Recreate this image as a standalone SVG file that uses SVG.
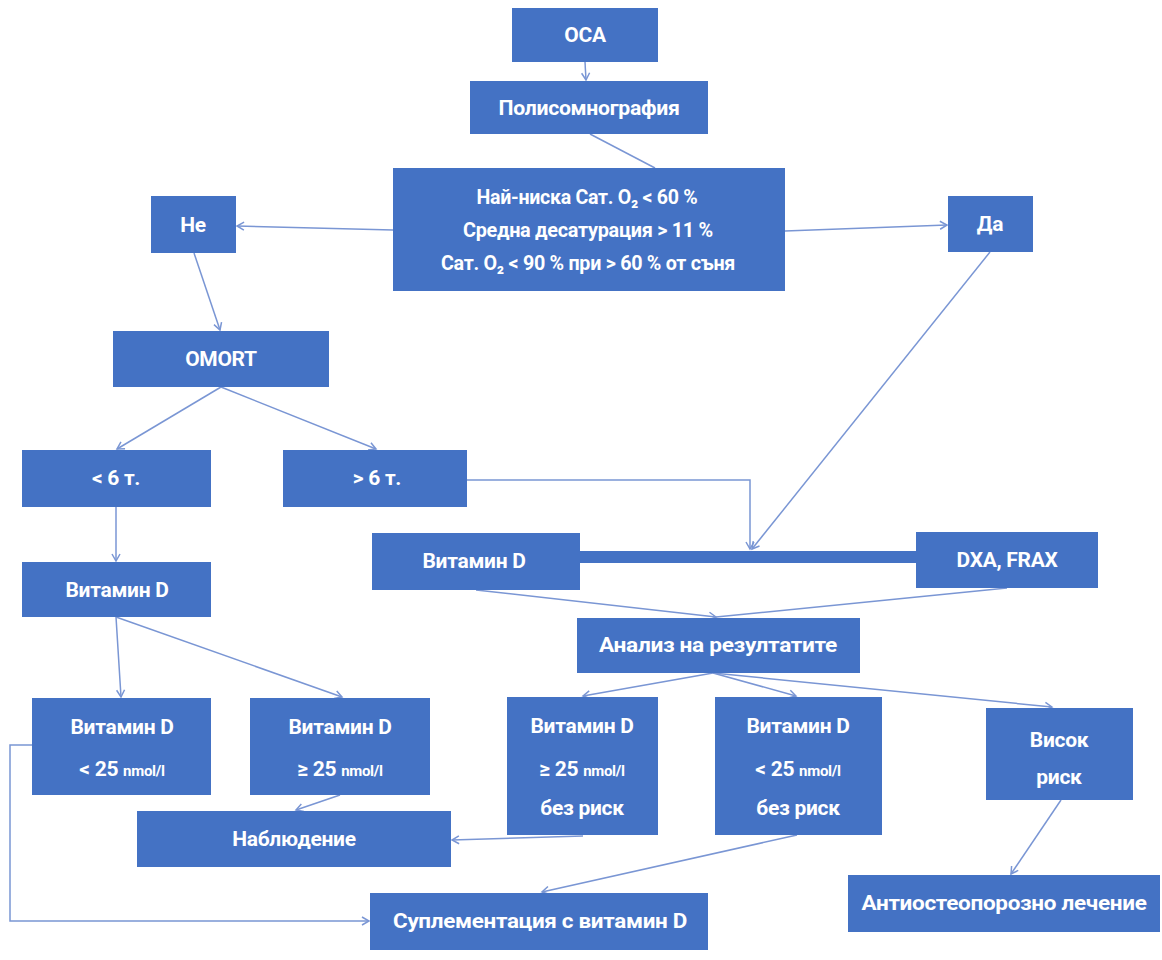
<svg xmlns="http://www.w3.org/2000/svg" width="1162" height="960" viewBox="0 0 1162 960">
<defs>
<style>
.n{fill:#4472C4}
.t{fill:#fff;font-family:Roboto,"Liberation Sans",sans-serif;font-weight:bold;font-size:21px;text-anchor:middle;letter-spacing:-0.3px}
.s{font-size:15px}
.c{fill:none;stroke:#7a96d4;stroke-width:1.5}
</style>
<marker id="a" markerWidth="10" markerHeight="10" refX="8" refY="5" orient="auto" markerUnits="userSpaceOnUse">
<path d="M1,1 L8,5 L1,9" fill="none" stroke="#7a96d4" stroke-width="1.5"/>
</marker>
</defs>
<rect width="1162" height="960" fill="#fff"/>
<g id="connectors">
<line class="c" x1="585" y1="62" x2="586" y2="80" marker-end="url(#a)"/>
<line class="c" x1="590" y1="134" x2="655" y2="168"/>
<line class="c" x1="393" y1="230" x2="237" y2="226" marker-end="url(#a)"/>
<line class="c" x1="785" y1="231" x2="947" y2="225" marker-end="url(#a)"/>
<line class="c" x1="194" y1="253" x2="220" y2="330" marker-end="url(#a)"/>
<line class="c" x1="221" y1="387" x2="117" y2="449" marker-end="url(#a)"/>
<line class="c" x1="221" y1="387" x2="376" y2="449" marker-end="url(#a)"/>
<line class="c" x1="116" y1="507" x2="116" y2="561" marker-end="url(#a)"/>
<path class="c" d="M467,480 L750,480 L750,549" marker-end="url(#a)"/>
<line class="c" x1="990" y1="252" x2="752" y2="549" marker-end="url(#a)"/>
<rect x="580" y="551" width="336" height="12" fill="#4472C4"/>
<line class="c" x1="476" y1="590" x2="716" y2="617" marker-end="url(#a)"/>
<line class="c" x1="1007" y1="588" x2="716" y2="617"/>
<line class="c" x1="713" y1="673" x2="583" y2="696" marker-end="url(#a)"/>
<line class="c" x1="713" y1="673" x2="796" y2="696" marker-end="url(#a)"/>
<line class="c" x1="713" y1="673" x2="1052" y2="707" marker-end="url(#a)"/>
<line class="c" x1="116" y1="617" x2="121" y2="697" marker-end="url(#a)"/>
<line class="c" x1="116" y1="617" x2="342" y2="697" marker-end="url(#a)"/>
<line class="c" x1="340" y1="795" x2="296" y2="810" marker-end="url(#a)"/>
<line class="c" x1="583" y1="836" x2="452" y2="840" marker-end="url(#a)"/>
<line class="c" x1="797" y1="835" x2="542" y2="892" marker-end="url(#a)"/>
<line class="c" x1="1061" y1="800" x2="1011" y2="874" marker-end="url(#a)"/>
<path class="c" d="M32,745 L10,745 L10,921 L369,921" marker-end="url(#a)"/>
</g>
<g id="n-osa"><rect class="n" x="512" y="8" width="146" height="54"/><text class="t" x="585" y="42">ОСА</text></g>
<g id="n-psg"><rect class="n" x="470" y="81" width="238" height="53"/><text class="t" x="589" y="115" textLength="181" lengthAdjust="spacingAndGlyphs">Полисомнография</text></g>
<g id="n-cond"><rect class="n" x="393" y="168" width="392" height="123"/>
<text class="t" x="587" y="204" textLength="221" lengthAdjust="spacingAndGlyphs">Най-ниска Сат. O₂ &lt; 60 %</text>
<text class="t" x="588" y="237" textLength="250" lengthAdjust="spacingAndGlyphs">Средна десатурация &gt; 11 %</text>
<text class="t" x="588" y="270" textLength="294" lengthAdjust="spacingAndGlyphs">Сат. O₂ &lt; 90 % при &gt; 60 % от съня</text></g>
<g id="n-ne"><rect class="n" x="151" y="196" width="85" height="57"/><text class="t" x="193" y="232">Не</text></g>
<g id="n-da"><rect class="n" x="948" y="196" width="85" height="56"/><text class="t" x="990" y="231">Да</text></g>
<g id="n-omort"><rect class="n" x="113" y="331" width="216" height="56"/><text class="t" x="221" y="366">OMORT</text></g>
<g id="n-lt6"><rect class="n" x="22" y="450" width="189" height="57"/><text class="t" x="116" y="485">&lt; 6 т.</text></g>
<g id="n-gt6"><rect class="n" x="283" y="450" width="184" height="57"/><text class="t" x="377" y="485">&gt; 6 т.</text></g>
<g id="n-vitd-l"><rect class="n" x="22" y="562" width="189" height="55"/><text class="t" x="117" y="597">Витамин D</text></g>
<g id="n-vitd-r"><rect class="n" x="372" y="533" width="208" height="57"/><text class="t" x="474" y="568">Витамин D</text></g>
<g id="n-dxa"><rect class="n" x="916" y="532" width="182" height="56"/><text class="t" x="1007" y="567">DXA, FRAX</text></g>
<g id="n-anal"><rect class="n" x="577" y="618" width="283" height="55"/><text class="t" x="718" y="652" textLength="238" lengthAdjust="spacingAndGlyphs">Анализ на резултатите</text></g>
<g id="n-vlt25"><rect class="n" x="32" y="698" width="179" height="97"/><text class="t" x="122" y="734">Витамин D</text><text class="t" x="122" y="776">&lt; 25 <tspan class="s">nmol/l</tspan></text></g>
<g id="n-vge25"><rect class="n" x="250" y="698" width="180" height="97"/><text class="t" x="340" y="734">Витамин D</text><text class="t" x="340" y="776">≥ 25 <tspan class="s">nmol/l</tspan></text></g>
<g id="n-vge25nr"><rect class="n" x="507" y="697" width="151" height="138"/><text class="t" x="582" y="733">Витамин D</text><text class="t" x="582" y="776">≥ 25 <tspan class="s">nmol/l</tspan></text><text class="t" x="582" y="815">без риск</text></g>
<g id="n-vlt25nr"><rect class="n" x="715" y="697" width="167" height="138"/><text class="t" x="798" y="733">Витамин D</text><text class="t" x="798" y="776">&lt; 25 <tspan class="s">nmol/l</tspan></text><text class="t" x="798" y="815">без риск</text></g>
<g id="n-risk"><rect class="n" x="986" y="708" width="147" height="92"/><text class="t" x="1059" y="747">Висок</text><text class="t" x="1059" y="784">риск</text></g>
<g id="n-obs"><rect class="n" x="137" y="811" width="314" height="56"/><text class="t" x="294" y="846">Наблюдение</text></g>
<g id="n-supp"><rect class="n" x="370" y="893" width="338" height="57"/><text class="t" x="540" y="928" textLength="294" lengthAdjust="spacingAndGlyphs">Суплементация с витамин D</text></g>
<g id="n-anti"><rect class="n" x="848" y="875" width="312" height="57"/><text class="t" x="1004" y="910" textLength="285" lengthAdjust="spacingAndGlyphs">Антиостеопорозно лечение</text></g>
</svg>
